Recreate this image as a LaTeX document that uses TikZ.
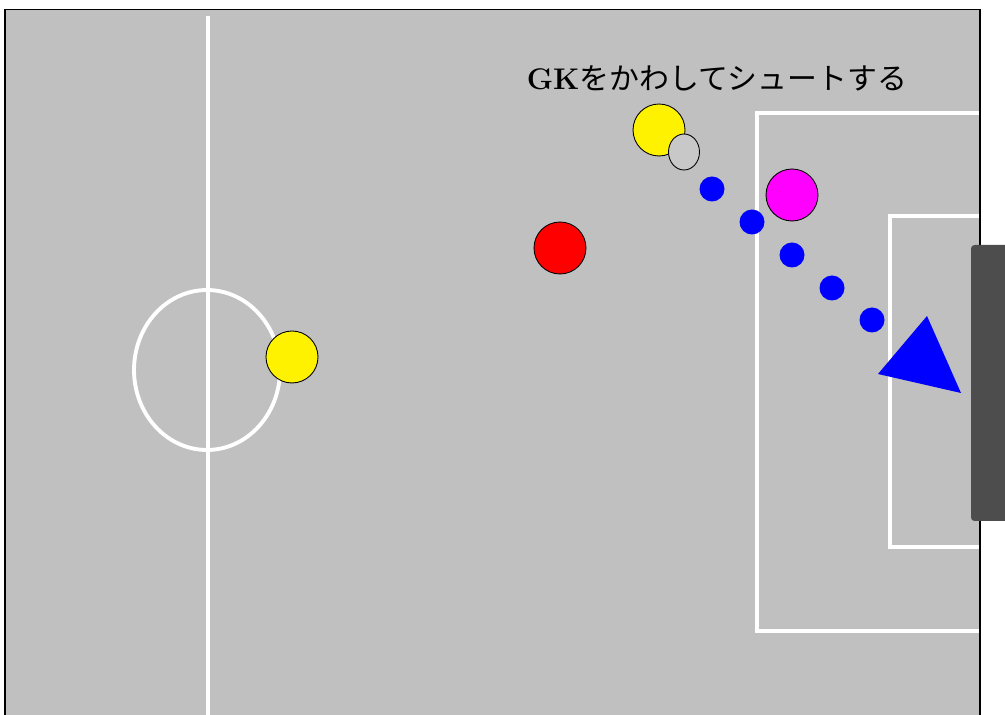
\documentclass[tikz,border=0pt]{standalone}
\usepackage{fontspec}
\usepackage{tikz}
\newfontfamily\jpfont{Noto Sans CJK JP}
\definecolor{fieldgray}{HTML}{C0C0C0}
\definecolor{goalgray}{HTML}{4D4D4D}
\definecolor{ballgray}{HTML}{C8C8C8}
\definecolor{keeperpink}{HTML}{FF00FF}
\usetikzlibrary{positioning, shapes.geometric}

\begin{document}
\begin{tikzpicture}[x=0.02cm, y=-0.02cm,
    player/.style={circle, draw=black, line width=0.5pt, inner sep=0pt, minimum size=1.04cm},
    balldot/.style={circle, fill=blue, inner sep=0pt, minimum size=0.5cm},
    fieldline/.style={white, line width=2.2pt}]
    \useasboundingbox (0,0) rectangle (1005,715);

    % Field
    \fill[fieldgray] (5,9.5) rectangle (980,715);

    % Halfway line and centre circle
    \draw[fieldline] (208,16) -- (208,715);
    \draw[fieldline] (207,370) ellipse [x radius=1.46cm, y radius=1.6cm];

    % Penalty area and goal area
    \draw[fieldline] (980,113) -- (757,113) -- (757,631) -- (980,631);
    \draw[fieldline] (980,216) -- (890,216) -- (890,547) -- (980,547);

    % Border
    \draw[black, line width=0.8pt] (5,715) -- (5,9.5) -- (980,9.5) -- (980,715);

    % Goal
    \fill[goalgray, rounded corners=2pt] (971,245) rectangle (1015,521);

    % Caption
    \node[font=\fontsize{17}{19}\selectfont] (caption) at (717,78) {\textbf{GK}\jpfont をかわしてシュートする};

    % Players
    \node[player, fill=yellow] (kickoff) at (292,357) {};
    \node[player, fill=red] (defender) at (560,248) {};
    \node[player, fill=yellow] (striker) at (659,130) {};
    \node[player, fill=keeperpink] (keeper) at (792,195) {};

    % Ball
    \node[ellipse, draw=black, line width=0.5pt, fill=ballgray, inner sep=0pt,
          minimum width=0.62cm, minimum height=0.72cm] (ball) at (684,152) {};

    % Dribble path
    \foreach \x/\y [count=\i] in {712/189, 752/222, 792/255, 832/288, 872/320}
        \node[balldot] (step\i) at (\x,\y) {};

    % Shot
    \fill[blue] (927,316) -- (878,374) -- (961,393) -- cycle;
\end{tikzpicture}
\end{document}
